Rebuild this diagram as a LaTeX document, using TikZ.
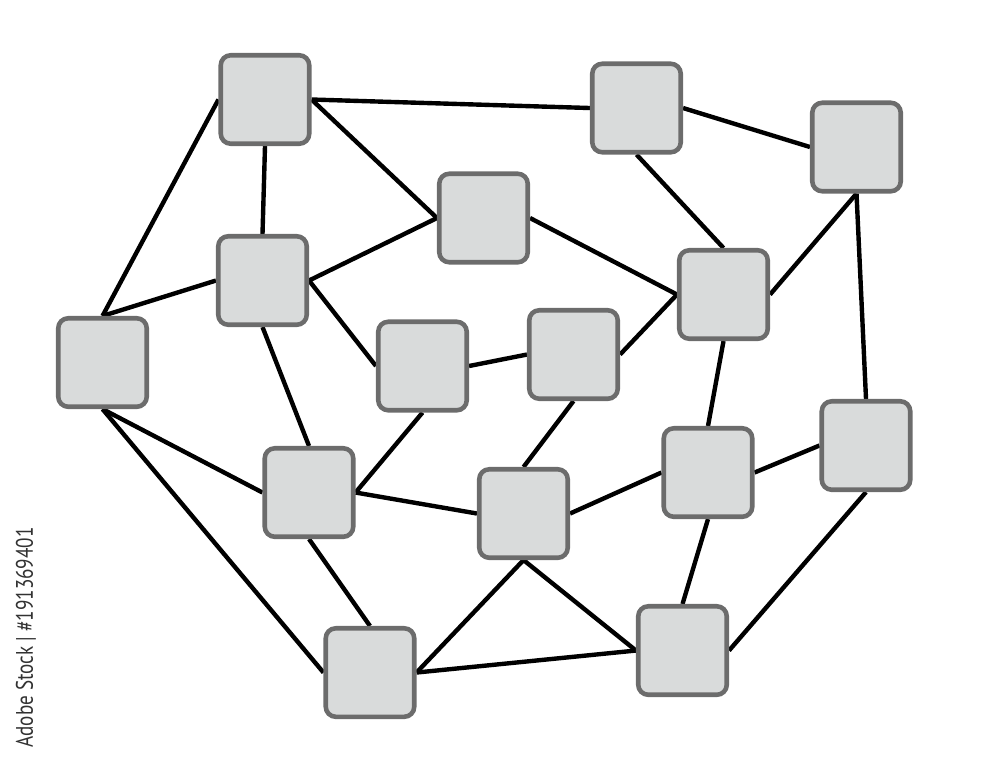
\documentclass[tikz,border=0pt]{standalone}
\usepackage{fontspec}
\newfontfamily\stockfont{PT Sans}
\usetikzlibrary{backgrounds}
\definecolor{panel}{RGB}{217,219,219}
\definecolor{rim}{RGB}{108,108,108}
\definecolor{ink}{RGB}{0,0,0}
\definecolor{mark}{RGB}{50,50,50}
\tikzset{
  box/.style={draw=rim,fill=panel,line width=1.3pt,rounded corners=1mm,
    minimum size=8.85mm,inner sep=0pt},
  link/.style={draw=ink,line width=1.25pt},
  stamp/.style={font=\stockfont\fontsize{6.8}{8}\selectfont,text=mark,rotate=90,inner sep=0pt}
}
\begin{document}
\begin{tikzpicture}
  \useasboundingbox (0,0) rectangle (10,-7.61);
  % squares
  \foreach \n/\x/\y in {a/2.65/-0.995, b/6.365/-1.08, c/8.565/-1.47, d/4.835/-2.18,
      e/2.625/-2.805, f/7.235/-2.945, g/1.025/-3.625, h/4.225/-3.66, i/5.735/-3.545,
      j/8.66/-4.455, k/7.08/-4.725, l/3.09/-4.925, m/5.235/-5.135, n/6.825/-6.505,
      o/3.70/-6.725}
    \node[box] (\n) at (\x,\y) {};
  % links behind the squares
  \begin{scope}[on background layer]
    \foreach \s/\t in {a.east/b.west, a.east/d.west, a.south/e.north, a.west/g.north,
        b.east/c.west, b.south/f.north, c.south/f.east, c.south/j.north,
        d.west/e.east, d.east/f.west, e.west/g.north, e.east/h.west,
        e.south/l.north, f.west/i.east, f.south/k.north, h.east/i.west,
        h.south/l.east, i.south/m.north, g.south/l.west, g.south/o.west,
        l.east/m.west, l.south/o.north, m.east/k.west, k.east/j.west,
        m.south/o.east, m.south/n.west, o.east/n.west, k.south/n.north,
        j.south/n.east}
      \draw[link] (\s) -- (\t);
  \end{scope}
  \node[stamp] (credit) at (0.26,-6.375) {\scalebox{0.8}[1]{Adobe Stock | \#191369401}};
\end{tikzpicture}
\end{document}
